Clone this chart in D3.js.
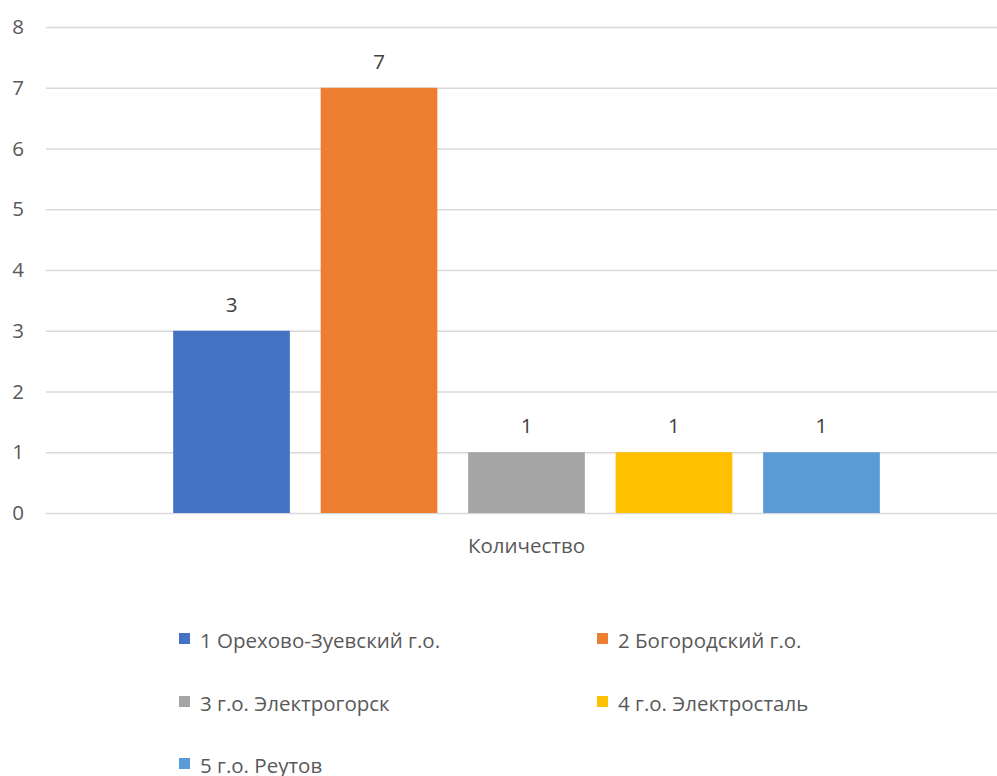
<!DOCTYPE html>
<html><head><meta charset="utf-8">
<script src="https://cdn.jsdelivr.net/npm/d3@7/dist/d3.min.js"></script>
<style>body{margin:0;background:#fff;} svg{display:block;font-family:"Open Sans",sans-serif;}</style>
</head><body>
<script>
const category = "Количество";
const seriesNames = ["1 Орехово-Зуевский г.о.", "2 Богородский г.о.", "3 г.о. Электрогорск", "4 г.о. Электросталь", "5 г.о. Реутов"];
const seriesValues = [3, 7, 1, 1, 1];
const seriesColors = ["#4472C4", "#ED7D31", "#A5A5A5", "#FFC000", "#5B9BD5"];
const yTicks = [0, 1, 2, 3, 4, 5, 6, 7, 8];

(function () {
const W = 997, H = 776, FS = 20.5;
const svg = d3.select("body").append("svg").attr("width", W).attr("height", H);
const pl = 46, pr = 1007, pt = 27, pb = 513;
const y = d3.scaleLinear().domain([0, 8]).range([pb, pt]);
const x0 = d3.scaleBand().domain([category]).range([pl, pr]).paddingInner(0).paddingOuter(0.18);
const x1 = d3.scaleBand().domain(seriesNames).range([0, x0.bandwidth()]).paddingInner(0.209).paddingOuter(0);

const axis = d3.axisLeft(y).tickValues(yTicks).tickSize(-(pr - pl)).tickFormat(d3.format("d"));
const g = svg.append("g").attr("transform", `translate(${pl},0)`).call(axis);
g.select(".domain").remove();
g.selectAll(".tick line").attr("stroke", "#D9D9D9").attr("stroke-width", 1.5);
g.selectAll(".tick text").attr("x", -28).attr("fill", "#595959").attr("font-size", FS).attr("text-anchor", "middle").attr("font-family", "Open Sans");

const bars = svg.append("g");
seriesNames.forEach((s, i) => {
  const bx = x0(category) + x1(s);
  bars.append("rect").attr("x", bx).attr("y", y(seriesValues[i]))
    .attr("width", x1.bandwidth()).attr("height", y(0) - y(seriesValues[i]))
    .attr("fill", seriesColors[i]);
  bars.append("text").attr("x", bx + x1.bandwidth() / 2).attr("y", y(seriesValues[i]) - 19)
    .attr("text-anchor", "middle").attr("fill", "#404040").attr("font-size", FS)
    .text(seriesValues[i]);
});

svg.append("text").attr("x", x0(category) + x0.bandwidth() / 2).attr("y", 553)
  .attr("text-anchor", "middle").attr("fill", "#595959").attr("font-size", FS).text(category);

const legX = [179, 597], legY = [641, 704, 766];
seriesNames.forEach((s, i) => {
  const lx = legX[i % 2], ly = legY[Math.floor(i / 2)];
  svg.append("rect").attr("x", lx).attr("y", ly - 8).attr("width", 11).attr("height", 11).attr("fill", seriesColors[i]);
  svg.append("text").attr("x", lx + 21).attr("y", ly + 7).attr("fill", "#595959").attr("font-size", FS).text(s);
});
})();
</script>
</body></html>
